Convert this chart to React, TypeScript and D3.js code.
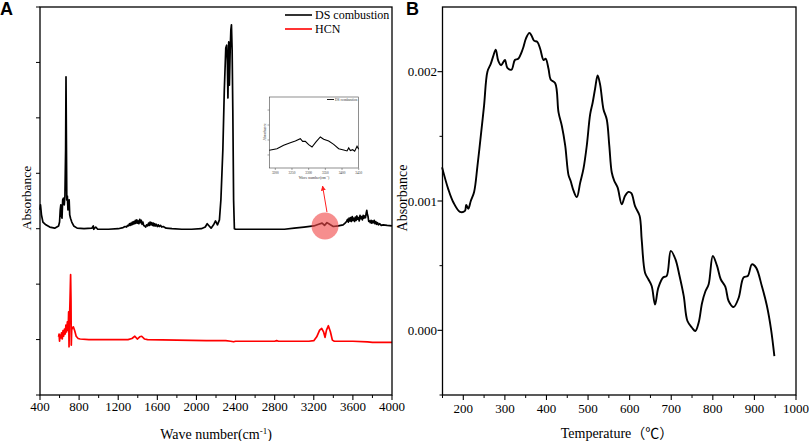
import React from "react";
import * as d3 from "d3";

// ---------- Panel A: FTIR spectra ----------
const dsWave = [400,405,415,430,460,500,550,590,600,607,613,618,625,632,640,648,655,662,666,670,674,680,686,692,698,704,712,725,745,780,850,930,945,950,970,990,1100,1200,1250,1270,1285,1295,1305,1315,1322,1330,1338,1345,1352,1360,1368,1375,1382,1390,1398,1405,1412,1420,1428,1436,1444,1452,1460,1470,1480,1490,1500,1510,1518,1526,1534,1542,1550,1558,1566,1574,1582,1590,1600,1610,1620,1632,1645,1660,1690,1750,1850,1950,2050,2090,2110,2130,2150,2175,2195,2215,2235,2250,2270,2285,2300,2309,2316,2322,2330,2337,2345,2352,2358,2365,2372,2380,2388,2400,2500,2700,2900,3000,3100,3200,3250,3285,3310,3335,3370,3400,3450,3500,3520,3535,3545,3553,3561,3569,3577,3585,3593,3601,3609,3617,3625,3633,3641,3649,3657,3665,3673,3681,3689,3697,3705,3713,3721,3729,3736,3742,3748,3755,3762,3770,3778,3786,3794,3802,3810,3818,3826,3834,3842,3852,3862,3875,3890,3910,3950,4000];
const dsAbs = [3.34,3.43,3.25,3.12,3.07,3.03,3.01,3.05,3.12,3.34,3.43,3.25,3.19,3.52,3.55,3.43,3.59,4.42,5.74,4.60,3.52,3.59,3.34,3.46,3.52,3.25,3.19,3.12,3.05,3.01,3.00,3.01,3.05,2.99,3.03,2.99,2.99,3.00,3.02,3.04,3.03,3.06,3.05,3.09,3.06,3.10,3.07,3.12,3.08,3.13,3.09,3.15,3.10,3.16,3.10,3.14,3.09,3.17,3.11,3.15,3.08,3.12,3.06,3.05,3.03,3.07,3.05,3.10,3.06,3.12,3.07,3.11,3.06,3.10,3.05,3.09,3.05,3.08,3.04,3.07,3.04,3.06,3.03,3.04,3.01,3.00,2.99,2.99,3.00,3.03,3.09,3.05,3.01,3.07,3.14,3.07,3.16,3.52,4.42,5.50,6.26,6.31,6.04,5.36,6.37,5.59,6.22,6.59,6.68,6.22,5.14,3.52,3.00,2.99,2.99,2.99,2.99,3.01,3.03,3.05,3.08,3.10,3.06,3.11,3.07,3.04,3.05,3.07,3.10,3.13,3.17,3.12,3.19,3.14,3.20,3.13,3.22,3.15,3.19,3.13,3.21,3.15,3.23,3.17,3.20,3.14,3.24,3.18,3.22,3.16,3.24,3.19,3.23,3.20,3.28,3.33,3.26,3.22,3.13,3.14,3.11,3.15,3.10,3.14,3.11,3.15,3.09,3.13,3.08,3.11,3.07,3.09,3.06,3.07,3.06,3.05];

const hcnWave = [590,595,600,605,612,620,628,635,642,650,658,665,672,680,688,693,697,702,707,713,717,720,724,730,741,755,770,790,810,900,1000,1300,1340,1370,1395,1420,1440,1470,1500,1800,2100,2300,2350,2380,2400,2800,2820,2840,3150,3200,3230,3260,3281,3300,3315,3330,3349,3370,3390,3410,3600,3750,3800,4000];
const hcnAbs = [1.05,1.10,0.97,1.08,1.03,1.12,1.01,1.16,1.06,1.19,1.10,1.26,1.14,1.32,1.17,1.50,0.87,1.39,1.71,2.17,1.71,0.90,1.17,1.21,1.23,1.16,1.06,1.02,1.01,1.00,1.00,1.00,1.02,1.06,1.01,1.05,1.06,1.01,1.00,0.99,0.98,0.98,0.97,0.96,0.97,0.97,0.98,0.97,0.97,0.98,1.05,1.17,1.20,1.14,1.04,1.17,1.25,1.14,0.99,0.97,0.97,0.96,0.95,0.95];

const insetWave = [3182,3205,3225,3245,3260,3275,3282,3290,3300,3310,3322,3335,3345,3360,3375,3390,3405,3415,3420,3425,3432,3438,3445,3450];
const insetAbs = [0.31,0.42,0.65,0.82,0.93,1.09,0.91,0.91,0.69,0.53,0.87,1.20,1.05,0.93,0.71,0.42,0.33,0.27,0.47,0.29,0.35,0.25,0.58,0.38];

const waveTicks = [400,800,1200,1600,2000,2400,2800,3200,3600,4000];
const waveMinor = [600,1000,1400,1800,2200,2600,3000,3400,3800];
const absTicksA = [0,1,2,3,4,5,6,7];
const insetTicks = [3200,3250,3300,3350,3400,3450];
const insetYTicks = [0,1,2,3];
const legendNames = ["DS combustion", "HCN"];
const legendColors = ["#000000", "#ff0000"];

// ---------- Panel B: HCN vs temperature ----------
const tempC = [149,164,176,192,204,207,212,218,226,234,243,250,258,266,272,278,284,291,300,306,316,324,332,343,351,359,364,370,378,385,393,398,405,410,421,429,437,445,453,458,465,473,481,489,497,505,511,517,523,529,537,545,551,557,563,571,581,589,597,604,613,624,629,637,645,653,661,669,681,689,699,710,720,730,739,750,758,766,774,782,790,800,810,819,830,838,850,862,874,884,894,904,918,930,940,948];
// absorbance in units of 1e-3
const tempAbsMilli = [1.26,1.09,0.99,0.916,0.924,0.97,0.94,1.0,1.07,1.27,1.53,1.74,2.0,2.06,2.12,2.17,2.085,2.05,2.09,2.03,2.015,2.09,2.10,2.175,2.26,2.30,2.28,2.24,2.23,2.175,2.09,2.10,2.02,1.94,1.91,1.685,1.58,1.43,1.20,1.156,1.08,1.03,1.14,1.25,1.43,1.67,1.76,1.87,1.97,1.90,1.71,1.63,1.43,1.22,1.156,1.105,0.975,1.04,1.07,1.06,0.96,0.885,0.70,0.446,0.395,0.343,0.20,0.33,0.41,0.42,0.614,0.55,0.42,0.266,0.072,0.02,-0.005,0.06,0.21,0.30,0.356,0.575,0.50,0.395,0.338,0.227,0.18,0.25,0.41,0.42,0.51,0.485,0.34,0.19,0.008,-0.20];
const tempTicks = [200,300,400,500,600,700,800,900,1000];
const tempMinor = [150,250,350,450,550,650,750,850,950];
const absTicksB = [0,1,2];
const absMinorB = [-0.5,0.5,1.5];

const SERIF = "'Liberation Serif','Times New Roman',Times,serif";
const SANS = "'Liberation Sans',Arial,sans-serif";

export default function App() {
  // Panel A scales
  const xA = d3.scaleLinear().domain([400, 4000]).range([40, 392]);
  const yA = d3.scaleLinear().domain([0, 7]).range([395, 7]);
  const lineA = d3.line<[number, number]>().x(d => xA(d[0])).y(d => yA(d[1]));
  const dsPts = dsWave.map((w, i) => [w, dsAbs[i]] as [number, number]);
  const hcnPts = hcnWave.map((w, i) => [w, hcnAbs[i]] as [number, number]);

  // Inset scales
  const xI = d3.scaleLinear().domain([3182, 3450]).range([269.3, 358.7]);
  const yI = d3.scaleLinear().domain([-0.87, 3.87]).range([168, 97]);
  const lineI = d3.line<[number, number]>().x(d => xI(d[0])).y(d => yI(d[1]));
  const insetPts = insetWave.map((w, i) => [w, insetAbs[i]] as [number, number]);

  // Panel B scales
  const xB = d3.scaleLinear().domain([150, 1000]).range([442.5, 796]);
  const yB = d3.scaleLinear().domain([-0.5, 2.5]).range([395, 7]);
  const lineB = d3.line<[number, number]>().x(d => xB(d[0])).y(d => yB(d[1])).curve(d3.curveCatmullRom.alpha(0.5));
  const tPts = tempC.map((t, i) => [t, tempAbsMilli[i]] as [number, number]);

  const circX = xA(3315), circY = yA(3.05);
  const arrFrom = [xA(3335), yA(3.3)];
  const arrTo = [xA(3290), yA(3.77)];

  return (
    <svg width={809} height={441} style={{ position: "absolute", left: 0, top: 0, background: "#fff" }}>
      <defs>
        <marker id="arr" viewBox="0 0 10 10" refX="9" refY="5" markerWidth="5" markerHeight="5" orient="auto">
          <path d="M0,0 L10,5 L0,10 z" fill="#ff2020" />
        </marker>
      </defs>
      <rect width={809} height={441} fill="#fff" />

      {/* ===== Panel A ===== */}
      <text x={0} y={15} fontFamily={SANS} fontWeight="bold" fontSize={18}>A</text>
      <path d={lineA(hcnPts) || ""} fill="none" stroke="#ff0000" strokeWidth={1.7} strokeLinejoin="round" />
      <path d={lineA(dsPts) || ""} fill="none" stroke="#000" strokeWidth={1.7} strokeLinejoin="round" />
      <rect x={40} y={7} width={352} height={388} fill="none" stroke="#000" strokeWidth={1.3} />
      {waveTicks.map(t => (
        <g key={"wt" + t}>
          <line x1={xA(t)} x2={xA(t)} y1={395} y2={400} stroke="#000" strokeWidth={1.1} />
          <text x={xA(t)} y={411} textAnchor="middle" fontFamily={SERIF} fontSize={13}>{t}</text>
        </g>
      ))}
      {waveMinor.map(t => (
        <line key={"wm" + t} x1={xA(t)} x2={xA(t)} y1={395} y2={398} stroke="#000" strokeWidth={1} />
      ))}
      {absTicksA.map(t => (
        <line key={"at" + t} x1={36} x2={40} y1={yA(t)} y2={yA(t)} stroke="#000" strokeWidth={1} />
      ))}
      <text x={216} y={439} textAnchor="middle" fontFamily={SERIF} fontSize={14}>
        Wave number(cm<tspan dy={-5} fontSize={9}>-1</tspan><tspan dy={5}>)</tspan>
      </text>
      <text transform="translate(31,198) rotate(-90)" textAnchor="middle" fontFamily={SERIF} fontSize={13.5}>Absorbance</text>

      {/* legend */}
      {legendNames.map((n, i) => (
        <g key={n}>
          <line x1={285} x2={312} y1={15 + i * 14} y2={15 + i * 14} stroke={legendColors[i]} strokeWidth={1.6} />
          <text x={315} y={19 + i * 14} fontFamily={SERIF} fontSize={12}>{n}</text>
        </g>
      ))}

      {/* highlight + arrow */}
      <circle cx={circX} cy={circY} r={13.5} fill="#f04848" fillOpacity={0.62} />
      <line x1={arrFrom[0]} y1={arrFrom[1]} x2={arrTo[0]} y2={arrTo[1]} stroke="#ff2020" strokeWidth={1} markerEnd="url(#arr)" />

      {/* inset */}
      <rect x={269.3} y={97} width={89.4} height={71} fill="#fff" stroke="#444" strokeWidth={0.6} />
      <path d={lineI(insetPts) || ""} fill="none" stroke="#000" strokeWidth={1.1} />
      {insetTicks.map(t => (
        <g key={"it" + t}>
          <line x1={xI(t)} x2={xI(t)} y1={168} y2={170} stroke="#444" strokeWidth={0.5} />
          <text x={xI(t)} y={173.5} textAnchor="middle" fontFamily={SERIF} fontSize={3.4} fill="#333">{t}</text>
        </g>
      ))}
      {insetYTicks.map(t => (
        <line key={"iy" + t} x1={267.5} x2={269.3} y1={yI(t)} y2={yI(t)} stroke="#444" strokeWidth={0.5} />
      ))}
      <line x1={327} x2={334} y1={99.5} y2={99.5} stroke="#000" strokeWidth={0.9} />
      <text x={335} y={100.7} fontFamily={SERIF} fontSize={3.6} fill="#333">DS combustion</text>
      <text x={314} y={178.5} textAnchor="middle" fontFamily={SERIF} fontSize={3.8} fill="#333">
        Wave number(cm<tspan dy={-1.2} fontSize={2.6}>-1</tspan><tspan dy={1.2}>)</tspan>
      </text>
      <text transform="translate(265.5,132) rotate(-90)" textAnchor="middle" fontFamily={SERIF} fontSize={3.6} fill="#333">Absorbance</text>

      {/* ===== Panel B ===== */}
      <text x={406} y={15} fontFamily={SANS} fontWeight="bold" fontSize={18}>B</text>
      <path d={lineB(tPts) || ""} fill="none" stroke="#000" strokeWidth={1.9} strokeLinejoin="round" />
      <rect x={442.5} y={7} width={353.5} height={388} fill="none" stroke="#000" strokeWidth={1.3} />
      {tempTicks.map(t => (
        <g key={"tt" + t}>
          <line x1={xB(t)} x2={xB(t)} y1={395} y2={400} stroke="#000" strokeWidth={1.1} />
          <text x={xB(t)} y={413} textAnchor="middle" fontFamily={SERIF} fontSize={13}>{t}</text>
        </g>
      ))}
      {tempMinor.map(t => (
        <line key={"tm" + t} x1={xB(t)} x2={xB(t)} y1={395} y2={398} stroke="#000" strokeWidth={1} />
      ))}
      {absTicksB.map(t => (
        <g key={"bt" + t}>
          <line x1={437.5} x2={442.5} y1={yB(t)} y2={yB(t)} stroke="#000" strokeWidth={1.1} />
          <text x={437} y={yB(t) + 4.5} textAnchor="end" fontFamily={SERIF} fontSize={13}>{(t / 1000).toFixed(3)}</text>
        </g>
      ))}
      {absMinorB.map(t => (
        <line key={"bm" + t} x1={439.5} x2={442.5} y1={yB(t)} y2={yB(t)} stroke="#000" strokeWidth={1} />
      ))}
      <text x={617} y={438} textAnchor="middle" fontFamily={SERIF + ",'Noto Sans CJK SC'"} fontSize={14}>Temperature（℃）</text>
      <text transform="translate(407,198) rotate(-90)" textAnchor="middle" fontFamily={SERIF} fontSize={14}>Absorbance</text>
    </svg>
  );
}
